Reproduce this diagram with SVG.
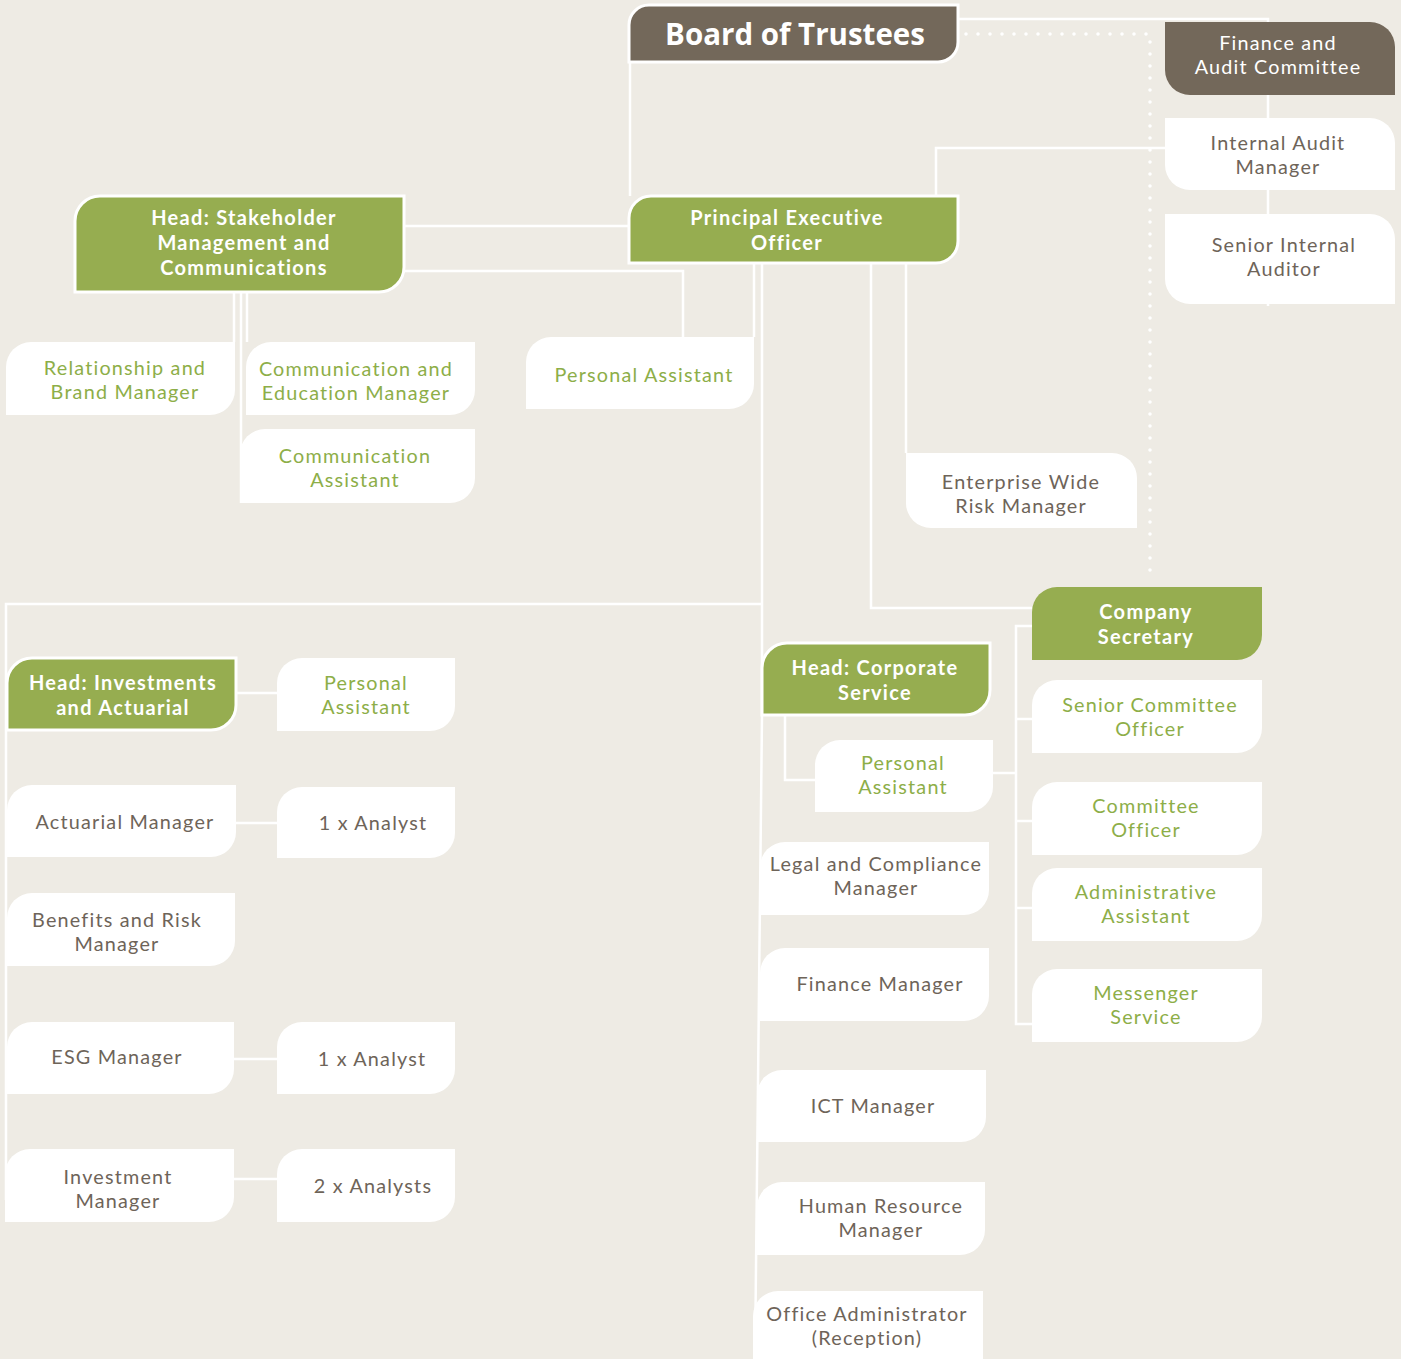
<svg xmlns="http://www.w3.org/2000/svg" width="1401" height="1359" viewBox="0 0 1401 1359">
<style>
.bg{fill:#EEEBE4}
.brown{fill:#73685A}
.green{fill:#96AD50}
.hl{stroke:#FFFFFF;stroke-width:3}
.white{fill:#FFFFFF}
.ln{fill:none;stroke:#FFFFFF;stroke-width:2.5}
.dot{fill:none;stroke:#FFFFFF;stroke-width:3.5;stroke-linecap:round;stroke-dasharray:0 12}
text{font-family:Lato,"Open Sans","Noto Sans",sans-serif;text-anchor:middle;font-size:19.8px;letter-spacing:1.2px}
.tw{fill:#FFFFFF}
.tb{fill:#FFFFFF;font-weight:bold;font-size:20px;letter-spacing:1.3px}
.tg{fill:#6E6459}
.tgr{fill:#8DAE48}
.big{fill:#FFFFFF;font-family:"Open Sans","Noto Sans",sans-serif;font-weight:bold;font-size:29.5px;letter-spacing:0}
</style>
<rect class="bg" x="0" y="0" width="1401" height="1359"/>
<g id="connectors">
<path class="ln" d="M958,19 H1268 V306"/>
<path class="dot" d="M966,34 H1150 V582"/>
<path class="ln" d="M630,62 V196"/>
<path class="ln" d="M936,196 V148 H1165"/>
<path class="ln" d="M404,226 H629"/>
<path class="ln" d="M404,271 H683 V337"/>
<path class="ln" d="M754,263 V337"/>
<path class="ln" d="M762,263 V715 L755,1359"/>
<path class="ln" d="M762,604 H6 V1200"/>
<path class="ln" d="M871,263 V608 H1032"/>
<path class="ln" d="M906,263 V453"/>
<path class="ln" d="M234,292 V342"/>
<path class="ln" d="M241,292 V503"/>
<path class="ln" d="M247,292 V342"/>
<path class="ln" d="M236,693 H277"/>
<path class="ln" d="M236,823 H277"/>
<path class="ln" d="M234,1059 H277"/>
<path class="ln" d="M234,1179 H277"/>
<path class="ln" d="M785,715 V780 H815"/>
<path class="ln" d="M993,773 H1016"/>
<path class="ln" d="M1032,626 H1016 V1024 H1032"/>
<path class="ln" d="M1016,719 H1032"/>
<path class="ln" d="M1016,821 H1032"/>
<path class="ln" d="M1016,908 H1032"/>
</g>
<g id="board">
<path class="brown hl" d="M649,5 H958 V42 A20,20 0 0 1 938,62 H629 V25 A20,20 0 0 1 649,5 Z"/>
<text class="big" x="795" y="45">Board of Trustees</text>
</g>
<g id="finance-audit-committee">
<path class="brown" d="M1165,22 H1370 A25,25 0 0 1 1395,47 V95 H1190 A25,25 0 0 1 1165,70 Z"/>
<text class="tw" x="1278" y="50">Finance and<tspan x="1278" dy="24">Audit Committee</tspan></text>
</g>
<g id="internal-audit-manager">
<path class="white" d="M1165,118 H1370 A25,25 0 0 1 1395,143 V190 H1190 A25,25 0 0 1 1165,165 Z"/>
<text class="tg" x="1278" y="150">Internal Audit<tspan x="1278" dy="24">Manager</tspan></text>
</g>
<g id="senior-internal-auditor">
<path class="white" d="M1165,214 H1370 A25,25 0 0 1 1395,239 V304 H1190 A25,25 0 0 1 1165,279 Z"/>
<text class="tg" x="1284" y="252">Senior Internal<tspan x="1284" dy="24">Auditor</tspan></text>
</g>
<g id="peo">
<path class="green hl" d="M651,196 H958 V241 A22,22 0 0 1 936,263 H629 V218 A22,22 0 0 1 651,196 Z"/>
<text class="tb" x="787" y="225">Principal Executive<tspan x="787" dy="25">Officer</tspan></text>
</g>
<g id="head-stakeholder">
<path class="green hl" d="M100,196 H404 V267 A25,25 0 0 1 379,292 H75 V221 A25,25 0 0 1 100,196 Z"/>
<text class="tb" x="244" y="225">Head: Stakeholder<tspan x="244" dy="25">Management and</tspan><tspan x="244" dy="25">Communications</tspan></text>
</g>
<g id="relationship-brand-manager">
<path class="white" d="M31,342 H235 V390 A25,25 0 0 1 210,415 H6 V367 A25,25 0 0 1 31,342 Z"/>
<text class="tgr" x="125" y="375">Relationship and<tspan x="125" dy="24">Brand Manager</tspan></text>
</g>
<g id="communication-education-manager">
<path class="white" d="M271,342 H475 V390 A25,25 0 0 1 450,415 H246 V367 A25,25 0 0 1 271,342 Z"/>
<text class="tgr" x="356" y="376">Communication and<tspan x="356" dy="24">Education Manager</tspan></text>
</g>
<g id="communication-assistant">
<path class="white" d="M265,429 H475 V478 A25,25 0 0 1 450,503 H240 V454 A25,25 0 0 1 265,429 Z"/>
<text class="tgr" x="355" y="463">Communication<tspan x="355" dy="24">Assistant</tspan></text>
</g>
<g id="peo-personal-assistant">
<path class="white" d="M551,337 H754 V384 A25,25 0 0 1 729,409 H526 V362 A25,25 0 0 1 551,337 Z"/>
<text class="tgr" x="644" y="382">Personal Assistant</text>
</g>
<g id="enterprise-risk-manager">
<path class="white" d="M906,453 H1112 A25,25 0 0 1 1137,478 V528 H931 A25,25 0 0 1 906,503 Z"/>
<text class="tg" x="1021" y="489">Enterprise Wide<tspan x="1021" dy="24">Risk Manager</tspan></text>
</g>
<g id="company-secretary">
<path class="green" d="M1057,587 H1262 V635 A25,25 0 0 1 1237,660 H1032 V612 A25,25 0 0 1 1057,587 Z"/>
<text class="tb" x="1146" y="619">Company<tspan x="1146" dy="25">Secretary</tspan></text>
</g>
<g id="head-corporate-service">
<path class="green hl" d="M787,643 H990 V690 A25,25 0 0 1 965,715 H762 V668 A25,25 0 0 1 787,643 Z"/>
<text class="tb" x="875" y="675">Head: Corporate<tspan x="875" dy="25">Service</tspan></text>
</g>
<g id="corporate-personal-assistant">
<path class="white" d="M840,740 H993 V787 A25,25 0 0 1 968,812 H815 V765 A25,25 0 0 1 840,740 Z"/>
<text class="tgr" x="903" y="770">Personal<tspan x="903" dy="24">Assistant</tspan></text>
</g>
<g id="senior-committee-officer">
<path class="white" d="M1057,680 H1262 V728 A25,25 0 0 1 1237,753 H1032 V705 A25,25 0 0 1 1057,680 Z"/>
<text class="tgr" x="1150" y="712">Senior Committee<tspan x="1150" dy="24">Officer</tspan></text>
</g>
<g id="committee-officer">
<path class="white" d="M1057,782 H1262 V830 A25,25 0 0 1 1237,855 H1032 V807 A25,25 0 0 1 1057,782 Z"/>
<text class="tgr" x="1146" y="813">Committee<tspan x="1146" dy="24">Officer</tspan></text>
</g>
<g id="administrative-assistant">
<path class="white" d="M1057,868 H1262 V916 A25,25 0 0 1 1237,941 H1032 V893 A25,25 0 0 1 1057,868 Z"/>
<text class="tgr" x="1146" y="899">Administrative<tspan x="1146" dy="24">Assistant</tspan></text>
</g>
<g id="messenger-service">
<path class="white" d="M1057,969 H1262 V1017 A25,25 0 0 1 1237,1042 H1032 V994 A25,25 0 0 1 1057,969 Z"/>
<text class="tgr" x="1146" y="1000">Messenger<tspan x="1146" dy="24">Service</tspan></text>
</g>
<g id="legal-compliance-manager">
<path class="white" d="M785,842 H989 V890 A25,25 0 0 1 964,915 H760 V867 A25,25 0 0 1 785,842 Z"/>
<text class="tg" x="876" y="871">Legal and Compliance<tspan x="876" dy="24">Manager</tspan></text>
</g>
<g id="finance-manager">
<path class="white" d="M785,948 H989 V996 A25,25 0 0 1 964,1021 H760 V973 A25,25 0 0 1 785,948 Z"/>
<text class="tg" x="880" y="991">Finance Manager</text>
</g>
<g id="ict-manager">
<path class="white" d="M782,1070 H986 V1117 A25,25 0 0 1 961,1142 H757 V1095 A25,25 0 0 1 782,1070 Z"/>
<text class="tg" x="873" y="1113">ICT Manager</text>
</g>
<g id="hr-manager">
<path class="white" d="M782,1182 H985 V1230 A25,25 0 0 1 960,1255 H757 V1207 A25,25 0 0 1 782,1182 Z"/>
<text class="tg" x="881" y="1213">Human Resource<tspan x="881" dy="24">Manager</tspan></text>
</g>
<g id="office-administrator">
<path class="white" d="M778,1291 H983 V1364 H753 V1316 A25,25 0 0 1 778,1291 Z"/>
<text class="tg" x="867" y="1321">Office Administrator<tspan x="867" dy="24">(Reception)</tspan></text>
</g>
<g id="head-investments">
<path class="green hl" d="M32,658 H236 V705 A25,25 0 0 1 211,730 H7 V683 A25,25 0 0 1 32,658 Z"/>
<text class="tb" x="123" y="690">Head: Investments<tspan x="123" dy="25">and Actuarial</tspan></text>
</g>
<g id="investments-personal-assistant">
<path class="white" d="M302,658 H455 V706 A25,25 0 0 1 430,731 H277 V683 A25,25 0 0 1 302,658 Z"/>
<text class="tgr" x="366" y="690">Personal<tspan x="366" dy="24">Assistant</tspan></text>
</g>
<g id="actuarial-manager">
<path class="white" d="M32,785 H236 V832 A25,25 0 0 1 211,857 H7 V810 A25,25 0 0 1 32,785 Z"/>
<text class="tg" x="125" y="829">Actuarial Manager</text>
</g>
<g id="actuarial-analyst">
<path class="white" d="M302,787 H455 V833 A25,25 0 0 1 430,858 H277 V812 A25,25 0 0 1 302,787 Z"/>
<text class="tg" x="373" y="830">1 x Analyst</text>
</g>
<g id="benefits-risk-manager">
<path class="white" d="M32,893 H235 V941 A25,25 0 0 1 210,966 H7 V918 A25,25 0 0 1 32,893 Z"/>
<text class="tg" x="117" y="927">Benefits and Risk<tspan x="117" dy="24">Manager</tspan></text>
</g>
<g id="esg-manager">
<path class="white" d="M32,1022 H234 V1069 A25,25 0 0 1 209,1094 H7 V1047 A25,25 0 0 1 32,1022 Z"/>
<text class="tg" x="117" y="1064">ESG Manager</text>
</g>
<g id="esg-analyst">
<path class="white" d="M302,1022 H455 V1069 A25,25 0 0 1 430,1094 H277 V1047 A25,25 0 0 1 302,1022 Z"/>
<text class="tg" x="372" y="1066">1 x Analyst</text>
</g>
<g id="investment-manager">
<path class="white" d="M30,1149 H234 V1197 A25,25 0 0 1 209,1222 H5 V1174 A25,25 0 0 1 30,1149 Z"/>
<text class="tg" x="118" y="1184">Investment<tspan x="118" dy="24">Manager</tspan></text>
</g>
<g id="investment-analysts">
<path class="white" d="M302,1149 H455 V1197 A25,25 0 0 1 430,1222 H277 V1174 A25,25 0 0 1 302,1149 Z"/>
<text class="tg" x="373" y="1193">2 x Analysts</text>
</g>
</svg>
